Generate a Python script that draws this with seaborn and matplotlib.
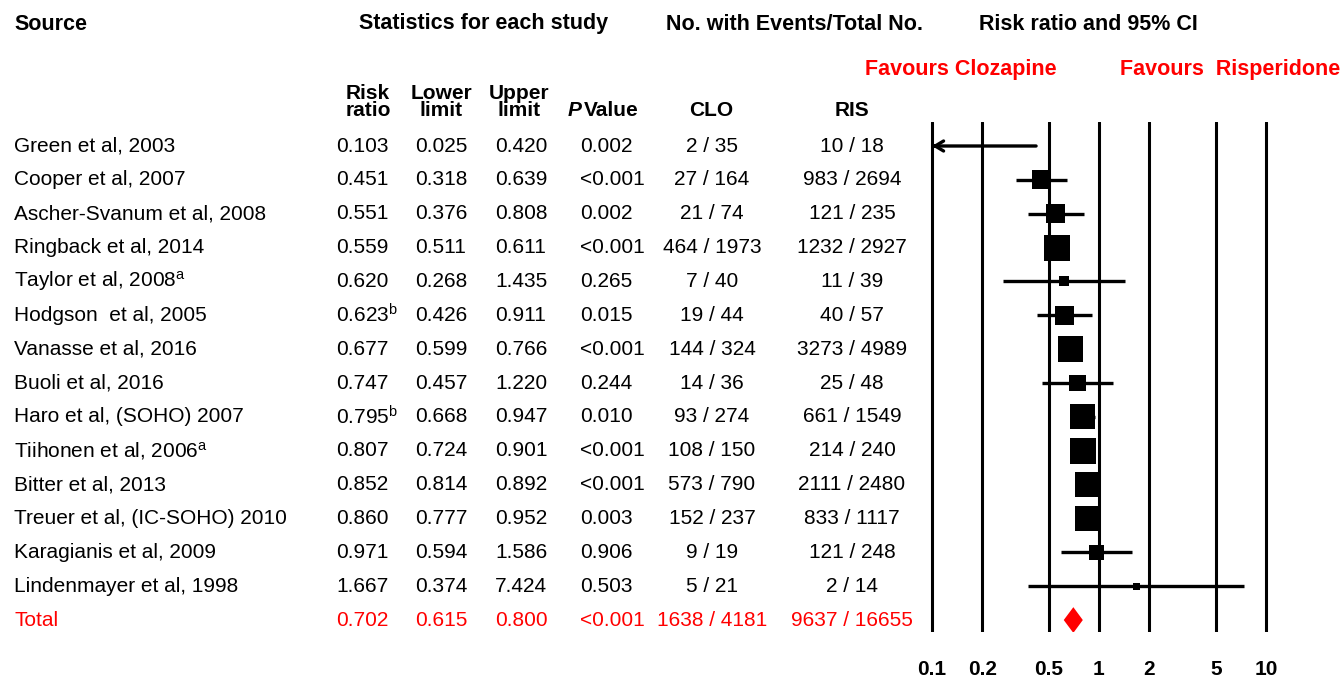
import matplotlib
matplotlib.use("Agg")
import matplotlib.pyplot as plt
import matplotlib.transforms as mtransforms
from matplotlib.ticker import NullLocator
import seaborn as sns
import pandas as pd

# ---------------- data ----------------
studies = ["Green et al, 2003", "Cooper et al, 2007", "Ascher-Svanum et al, 2008",
           "Ringback et al, 2014", "Taylor et al, 2008$^{\\mathrm{a}}$", "Hodgson  et al, 2005",
           "Vanasse et al, 2016", "Buoli et al, 2016", "Haro et al, (SOHO) 2007",
           "Tiihonen et al, 2006$^{\\mathrm{a}}$", "Bitter et al, 2013",
           "Treuer et al, (IC-SOHO) 2010", "Karagianis et al, 2009", "Lindenmayer et al, 1998"]
risk_ratio = [0.103, 0.451, 0.551, 0.559, 0.620, 0.623, 0.677, 0.747, 0.795, 0.807, 0.852, 0.860, 0.971, 1.667]
rr_notes = ["", "", "", "", "", "b", "", "", "b", "", "", "", "", ""]
lower_limit = [0.025, 0.318, 0.376, 0.511, 0.268, 0.426, 0.599, 0.457, 0.668, 0.724, 0.814, 0.777, 0.594, 0.374]
upper_limit = [0.420, 0.639, 0.808, 0.611, 1.435, 0.911, 0.766, 1.220, 0.947, 0.901, 0.892, 0.952, 1.586, 7.424]
p_values = ["0.002", "<0.001", "0.002", "<0.001", "0.265", "0.015", "<0.001", "0.244", "0.010",
            "<0.001", "<0.001", "0.003", "0.906", "0.503"]
clo_events = [2, 27, 21, 464, 7, 19, 144, 14, 93, 108, 573, 152, 9, 5]
clo_total = [35, 164, 74, 1973, 40, 44, 324, 36, 274, 150, 790, 237, 19, 21]
ris_events = [10, 983, 121, 1232, 11, 40, 3273, 25, 661, 214, 2111, 833, 121, 2]
ris_total = [18, 2694, 235, 2927, 39, 57, 4989, 48, 1549, 240, 2480, 1117, 248, 14]
rel_weight = [0.3, 6.0, 6.0, 11.3, 1.7, 6.3, 10.8, 4.8, 10.4, 11.3, 10.8, 10.8, 3.7, 0.8]

total_label = "Total"
total_rr, total_lower, total_upper = 0.702, 0.615, 0.800
total_p = "<0.001"
total_clo = (1638, 4181)
total_ris = (9637, 16655)

axis_ticks = [0.1, 0.2, 0.5, 1, 2, 5, 10]
axis_tick_labels = ["0.1", "0.2", "0.5", "1", "2", "5", "10"]

# ---------------- style ----------------
sns.set_theme(style="white")
plt.rcParams["font.family"] = ["Liberation Sans", "DejaVu Sans"]
plt.rcParams["text.color"] = "black"
plt.rcParams["xtick.color"] = "black"
plt.rcParams["xtick.labelcolor"] = "black"
plt.rcParams["mathtext.fontset"] = "custom"
plt.rcParams["mathtext.rm"] = "Liberation Sans"
plt.rcParams["mathtext.it"] = "Liberation Sans:italic"
plt.rcParams["mathtext.bf"] = "Liberation Sans:bold"

W, H = 1343, 677
fig = plt.figure(figsize=(W / 100, H / 100), dpi=100)
fig.patch.set_facecolor("white")

def fx(px):
    return px / W

def fy(py):
    return 1 - py / H

# forest axes: 0.1 at px 932, 10 at px 1266 (167 px / decade)
margin = 12
ax_left, ax_right = 932 - margin, 1266 + margin
ax_top, ax_bot = 122, 632
ax = fig.add_axes([fx(ax_left), fy(ax_bot), (ax_right - ax_left) / W, (ax_bot - ax_top) / H])
ax.set_facecolor("none")
ax.set_xscale("log")
ax.set_xlim(0.1 * 10 ** (-margin / 167), 10 * 10 ** (margin / 167))
n = len(studies)
row_px = 33.86
ax.set_ylim((ax_bot - 146) / row_px, (ax_top - 146) / row_px)
for s in ax.spines.values():
    s.set_visible(False)
ax.set_yticks([])
ax.xaxis.set_minor_locator(NullLocator())
ax.set_xticks(axis_ticks)
ax.set_xticklabels(axis_tick_labels, fontsize=15, fontweight="bold", color="black")
ax.tick_params(axis="x", length=0, pad=20, labelcolor="black")

for t in axis_ticks:
    ax.axvline(t, color="black", lw=2.2, zorder=1)

rows = list(range(n))
xmin_axis = 0.1
for i in rows:
    if lower_limit[i] < xmin_axis:
        ax.annotate("", xy=(xmin_axis, i), xytext=(upper_limit[i], i),
                    arrowprops=dict(arrowstyle="->,head_length=0.5,head_width=0.3",
                                    color="black", lw=2.4, shrinkA=0, shrinkB=0), zorder=2)
    else:
        ax.hlines(i, lower_limit[i], upper_limit[i], color="black", lw=2.4, zorder=2)

df = pd.DataFrame({"rr": risk_ratio, "row": rows, "w": rel_weight})
smax = (26 * 0.72) ** 2
sns.scatterplot(data=df, x="rr", y="row", size="w", sizes=(0, smax),
                size_norm=(0, max(rel_weight)), marker="s", color="black",
                linewidth=0, legend=False, ax=ax, zorder=3)
ax.set_xlabel("")
ax.set_ylabel("")

# total diamond
ty = n
hh = 0.38
ax.fill([total_lower, total_rr, total_upper, total_rr], [ty, ty - hh, ty, ty + hh],
        color="red", lw=0, zorder=3)

# ---------------- text ----------------
tr = mtransforms.blended_transform_factory(fig.transFigure, ax.transData)
FS = 15
hdr = dict(fontsize=15.5, fontweight="bold", va="center", color="black")
fig.text(fx(14), fy(24), "Source", ha="left", **hdr)
fig.text(fx(484), fy(24), "Statistics for each study", ha="center", **hdr)
fig.text(fx(795), fy(24), "No. with Events/Total No.", ha="center", **hdr)
fig.text(fx(1088), fy(24), "Risk ratio and 95% CI", ha="center", **hdr)

red_hdr = dict(fontsize=15.5, fontweight="bold", va="center", color="red", ha="center")
fig.text(fx(961), fy(70), "Favours Clozapine", **red_hdr)
fig.text(fx(1230), fy(70), "Favours  Risperidone", **red_hdr)

sub = dict(fontsize=15, fontweight="bold", va="center", ha="center", linespacing=0.85,
           color="black")
fig.text(fx(368), fy(102), "Risk\nratio", **sub)
fig.text(fx(441), fy(102), "Lower\nlimit", **sub)
fig.text(fx(519), fy(102), "Upper\nlimit", **sub)
fig.text(fx(581), fy(110), "P", fontsize=15, fontweight="bold", fontstyle="italic",
         va="center", ha="right", color="black")
fig.text(fx(584), fy(110), "Value", fontsize=15, fontweight="bold", va="center", ha="left",
         color="black")
fig.text(fx(711), fy(110), "CLO", **sub)
fig.text(fx(852), fy(110), "RIS", **sub)

col_rr, col_lo, col_up, col_p = 336, 415, 495, 580
col_clo, col_ris = 712, 852

def row_text(y, name, rr_s, lo_s, up_s, p_s, clo_s, ris_s, color):
    kw = dict(fontsize=FS, va="center", color=color, transform=tr)
    fig.text(fx(14), y, name, ha="left", **kw)
    fig.text(fx(col_rr), y, rr_s, ha="left", **kw)
    fig.text(fx(col_lo), y, lo_s, ha="left", **kw)
    fig.text(fx(col_up), y, up_s, ha="left", **kw)
    fig.text(fx(col_p), y, p_s, ha="left", **kw)
    fig.text(fx(col_clo), y, clo_s, ha="center", **kw)
    fig.text(fx(col_ris), y, ris_s, ha="center", **kw)

for i in rows:
    rr_s = f"{risk_ratio[i]:.3f}" + (f"$^{{\\mathrm{{{rr_notes[i]}}}}}$" if rr_notes[i] else "")
    row_text(i, studies[i], rr_s, f"{lower_limit[i]:.3f}", f"{upper_limit[i]:.3f}",
             p_values[i], f"{clo_events[i]} / {clo_total[i]}",
             f"{ris_events[i]} / {ris_total[i]}", "black")

row_text(n, total_label, f"{total_rr:.3f}", f"{total_lower:.3f}", f"{total_upper:.3f}",
         total_p, f"{total_clo[0]} / {total_clo[1]}", f"{total_ris[0]} / {total_ris[1]}", "red")

fig.savefig("out.png", dpi=100, facecolor="white")
